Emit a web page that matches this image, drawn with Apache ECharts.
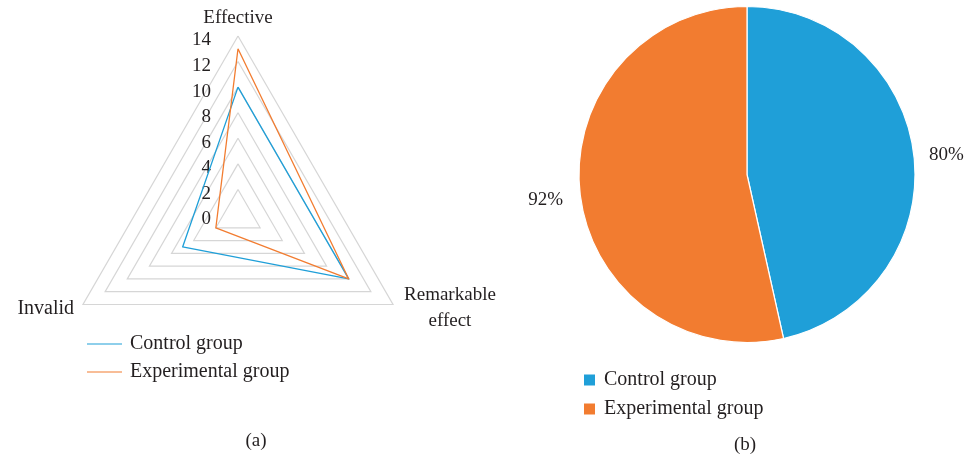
<!DOCTYPE html>
<html>
<head>
<meta charset="utf-8">
<script src="https://cdn.jsdelivr.net/npm/echarts@6/dist/echarts.min.js"></script>
<style>
  html, body { margin: 0; padding: 0; background: #fff; }
  #chart { width: 964px; height: 460px; }
</style>
</head>
<body>
<div id="chart"></div>
<script>
// Treatment outcome counts per group (radar) and overall effective rate (pie)
const groups = ['Control group', 'Experimental group'];
const outcomes = ['Effective', 'Invalid', 'Remarkable effect'];
const controlCounts = [10, 5, 10];
const experimentalCounts = [13, 2, 10];
const radarMax = 14;
const effectiveRates = [80, 92];

const FONT = 'Liberation Serif';
const TEXT = '#231f20';
const BLUE = '#1f9fd8';
const ORANGE = '#f27c30';

const chart = echarts.init(document.getElementById('chart'), null, { renderer: 'canvas' });

// only the upward axis carries the scale labels
const indicators = outcomes.map((name, i) => {
  const ind = { name: name, min: 0, max: radarMax };
  if (i === 0) ind.axisLabel = { show: true };
  return ind;
});

const legendData = groups.map((g, i) => ({ name: g, itemStyle: { color: i ? ORANGE : BLUE } }));

chart.setOption({
  animation: false,
  backgroundColor: '#fff',
  textStyle: { fontFamily: FONT, color: TEXT },
  legend: [
    {
      data: legendData,
      orient: 'vertical',
      left: 82,
      top: 329,
      icon: 'rect',
      itemWidth: 35,
      itemHeight: 1.2,
      itemGap: 8,
      selectedMode: false,
      textStyle: { fontFamily: FONT, fontSize: 20, color: TEXT, lineHeight: 20, padding: [0, 0, 0, 3] }
    },
    {
      data: legendData,
      orient: 'vertical',
      left: 579,
      top: 365,
      icon: 'rect',
      itemWidth: 11,
      itemHeight: 11,
      itemGap: 9,
      selectedMode: false,
      textStyle: { fontFamily: FONT, fontSize: 20, color: TEXT, lineHeight: 20, padding: [0, 0, 0, 4] }
    }
  ],
  radar: {
    center: [238, 215],
    radius: 179,
    shape: 'polygon',
    startAngle: 90,
    splitNumber: 7,
    indicator: indicators,
    nameGap: 8,
    axisName: {
      color: TEXT,
      fontFamily: FONT,
      fontSize: 19,
      formatter: function (name) {
        if (name === 'Remarkable effect') return '{a|Remarkable}\n{a|effect}';
        if (name === 'Invalid') return '{b|Invalid}';
        return name;
      },
      rich: {
        a: { fontFamily: FONT, fontSize: 19, color: TEXT, width: 100, align: 'center', lineHeight: 26 },
        b: { fontFamily: FONT, fontSize: 20, color: TEXT, padding: [0, 2, 0, 0] }
      }
    },
    axisLine: { show: false },
    axisTick: { show: false },
    axisLabel: {
      show: false,
      margin: 27,
      formatter: '{v|{value}}',
      rich: {
        v: { color: TEXT, fontFamily: FONT, fontSize: 19, padding: [9, 0, 0, 0] }
      }
    },
    splitLine: { lineStyle: { color: '#d6d6d6', width: 1.2 } },
    splitArea: { show: false }
  },
  series: [
    {
      type: 'radar',
      symbol: 'none',
      data: [
        { name: groups[0], value: controlCounts, lineStyle: { color: BLUE, width: 1.3 }, itemStyle: { color: BLUE } },
        { name: groups[1], value: experimentalCounts, lineStyle: { color: ORANGE, width: 1.3 }, itemStyle: { color: ORANGE } }
      ]
    },
    {
      type: 'pie',
      center: [747, 174.5],
      radius: [0, 168],
      startAngle: 90,
      clockwise: true,
      itemStyle: { borderColor: '#fff', borderWidth: 1.2 },
      label: {
        show: true,
        position: 'outside',
        formatter: '{c}%',
        fontFamily: FONT,
        fontSize: 19,
        color: TEXT,
        overflow: 'none',
        edgeDistance: 0
      },
      labelLine: { show: false, length: 10, length2: 0 },
      labelLayout: function (params) {
        if (params.dataIndex === 1) return { dx: -2, dy: 6 };
        return {};
      },
      data: groups.map((g, i) => ({ name: g, value: effectiveRates[i], itemStyle: { color: i ? ORANGE : BLUE } }))
    }
  ],
  graphic: [
    { type: 'text', x: 256, y: 441, style: { text: '(a)', align: 'center', verticalAlign: 'middle', font: '19px "Liberation Serif"', fill: TEXT } },
    { type: 'text', x: 745, y: 445, style: { text: '(b)', align: 'center', verticalAlign: 'middle', font: '19px "Liberation Serif"', fill: TEXT } }
  ]
});
</script>
</body>
</html>
